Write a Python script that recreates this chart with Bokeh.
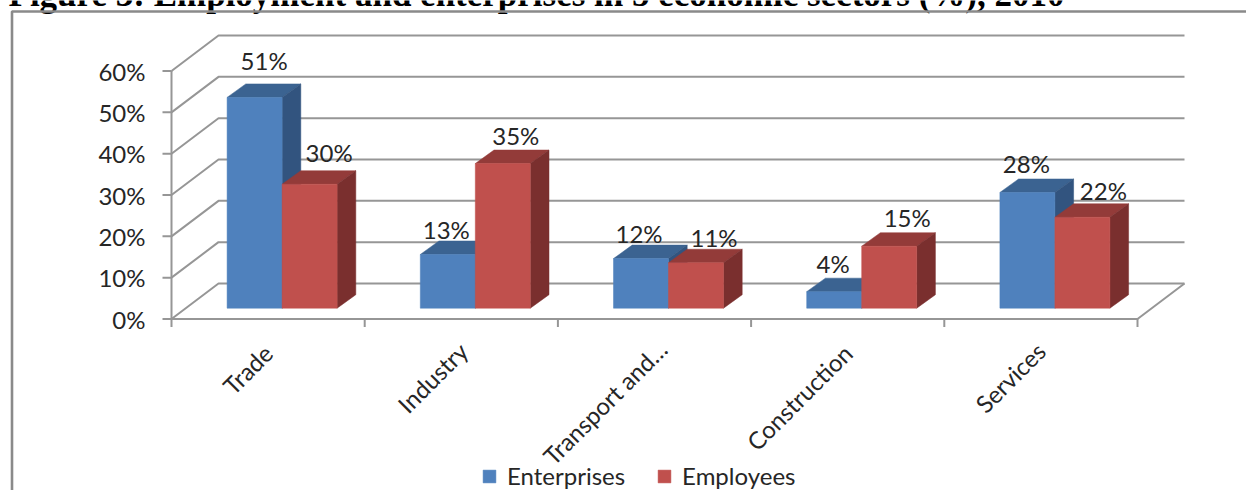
from bokeh.embed import file_html
from bokeh.models import Legend, LegendItem
from bokeh.plotting import figure
from bokeh.resources import INLINE
from bokeh.core.properties import value

# Chart values
categories = ["Trade", "Industry", "Transport and…", "Construction", "Services"]
enterprises = [51, 13, 12, 4, 28]
employees = [30, 35, 11, 15, 22]
y_ticks = [0, 10, 20, 30, 40, 50, 60]
title = "Figure 3: Employment and enterprises in 5 economic sectors (%), 2010"

# Pixel scale of the plot: one category is 193.2 px wide, one percent is 4.133 px tall
PX_X = 193.2
PX_Y = 4.133
ORIGIN_X = 171.0
ORIGIN_Y = 318.5
W, H = 1246, 490


def ux(px):
    return (px - ORIGIN_X) / PX_X


def uy(py):
    return (ORIGIN_Y - py) / PX_Y


# Depth of the floor/walls and of each bar, in data units
WALL_DX, WALL_DY = 47.0 / PX_X, 35.5 / PX_Y
BAR_DX, BAR_DY = 18.7 / PX_X, 13.5 / PX_Y
BASE_DX, BASE_DY = 14.0 / PX_X, 10.8 / PX_Y
BAR_W = 55.0 / PX_X

BLUE, BLUE_TOP, BLUE_SIDE = "#4F81BD", "#3B6391", "#32547F"
RED, RED_TOP, RED_SIDE = "#C0504D", "#933B39", "#7A2F2E"
GRID = "#969696"
TEXT = "#262626"
FONT = value("Lato")
FONT_SIZE = "24px"

p = figure(width=W, height=H, x_range=(ux(0), ux(W)), y_range=(uy(H), uy(0)),
           output_backend="svg", toolbar_location=None, min_border=0,
           outline_line_color=None, background_fill_color="white")
p.xaxis.visible = False
p.yaxis.visible = False
p.grid.visible = False

n = len(categories)

# Heading above the frame, running off the top of the page
p.text([ux(8)], [uy(-6)], text=[title], text_font=value("Liberation Serif"), text_font_style="bold",
       text_font_size="35px", text_color="black", text_baseline="alphabetic", text_align="left")

# Outer chart frame, running off the page at the right and bottom
p.line([ux(11.5), ux(11.5), ux(W + 5)], [uy(H + 5), uy(11), uy(11)], line_color="#8A8A8A", line_width=2.6)

# Back-wall gridlines with their slanted side-wall continuation
for t in y_ticks:
    p.line([0, WALL_DX, n + WALL_DX], [t, t + WALL_DY, t + WALL_DY], line_color=GRID, line_width=2)
    p.line([-9 / PX_X, 0], [t, t], line_color=GRID, line_width=2)

# Floor outline and axes
p.line([0, 0], [0, y_ticks[-1]], line_color=GRID, line_width=2)
p.line([0, n, n + WALL_DX], [0, 0, WALL_DY], line_color=GRID, line_width=2)
for i in range(n + 1):
    p.line([i, i], [0, -8 / PX_Y], line_color=GRID, line_width=2)

# Y tick labels
p.text([-26 / PX_X] * len(y_ticks), y_ticks, text=[f"{t}%" for t in y_ticks],
       text_font=FONT, text_font_size=FONT_SIZE, text_color=TEXT, text_align="right", text_baseline="middle")

# Rotated category labels, ending just below the axis; the truncated one reaches a little further
label_dx = [0, 2, 8, 0, 0]
label_dy = [0, -2, -4, 0, -2]
p.text([i + 0.5 for i in range(n)], [-7.2] * n, text=categories, angle=45, angle_units="deg",
       x_offset=label_dx, y_offset=label_dy,
       text_font=FONT, text_font_size=FONT_SIZE, text_color=TEXT, text_align="right", text_baseline="middle")


def draw_bars(values, offset, front, top, side):
    """Draw one series: top and side faces as polygons, front face as a bar."""
    lefts = [i + 0.5 + BASE_DX + offset for i in range(n)]
    base = BASE_DY
    tops = [v + base for v in values]
    xs_top, ys_top, xs_side, ys_side = [], [], [], []
    for l, t in zip(lefts, tops):
        r = l + BAR_W
        xs_top.append([l, r, r + BAR_DX, l + BAR_DX])
        ys_top.append([t, t, t + BAR_DY, t + BAR_DY])
        xs_side.append([r, r + BAR_DX, r + BAR_DX, r])
        ys_side.append([base, base + BAR_DY, t + BAR_DY, t])
    p.patches(xs_top, ys_top, fill_color=top, line_color=top, line_width=0.5)
    p.patches(xs_side, ys_side, fill_color=side, line_color=side, line_width=0.5)
    return p.vbar(x=[l + BAR_W / 2 for l in lefts], width=BAR_W, bottom=base, top=tops,
                  fill_color=front, line_color=front, line_width=0.5)


bars_a = draw_bars(enterprises, -BAR_W, BLUE, BLUE_TOP, BLUE_SIDE)
bars_b = draw_bars(employees, 0.0, RED, RED_TOP, RED_SIDE)

# Data labels, each nudged from the top centre of its bar
nudge_a = [(9.5, 37), (-1.5, 25), (-2, 25), (-1, 28), (-1, 29)]
nudge_b = [(19.5, 32), (13, 28), (18, 25), (18, 29), (21, 27)]
for values, shift, nudges in ((enterprises, -BAR_W / 2, nudge_a), (employees, BAR_W / 2, nudge_b)):
    p.text([i + 0.5 + BASE_DX + shift for i in range(n)], [v + BASE_DY for v in values],
           text=[f"{v}%" for v in values], x_offset=[a for a, _ in nudges], y_offset=[-b for _, b in nudges],
           text_font=FONT, text_font_size=FONT_SIZE, text_color=TEXT, text_align="center", text_baseline="middle")

legend = Legend(items=[LegendItem(label="Enterprises", renderers=[bars_a]),
                       LegendItem(label="Employees", renderers=[bars_b])],
                orientation="horizontal", location=(481, 0), background_fill_alpha=0, border_line_color=None,
                glyph_width=16, glyph_height=16, label_text_font="Lato", label_text_font_size=FONT_SIZE,
                label_text_color=TEXT, spacing=31, label_standoff=10, margin=0, padding=8)
p.add_layout(legend, "center")

open("out.html", "w").write(file_html(p, INLINE))
